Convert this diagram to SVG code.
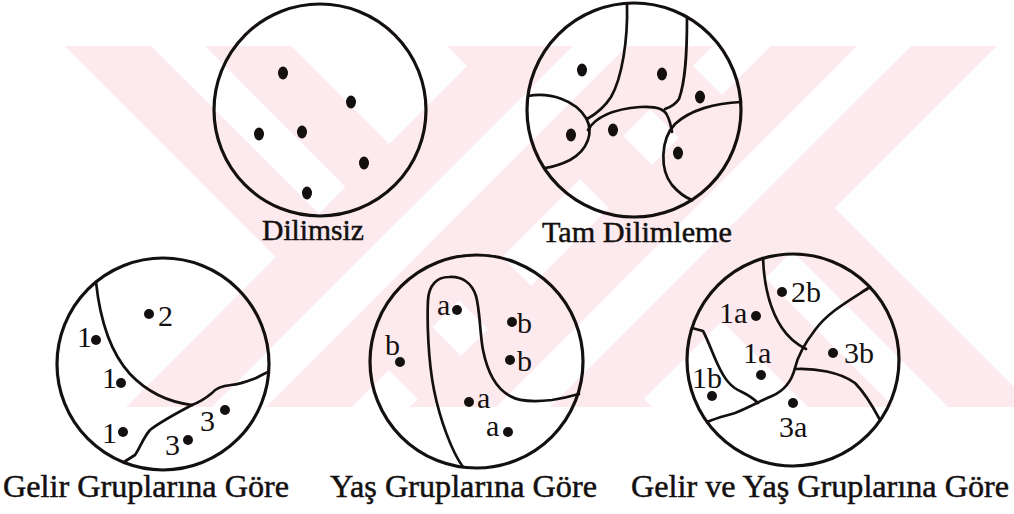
<svg xmlns="http://www.w3.org/2000/svg" width="1014" height="514" viewBox="0 0 1014 514">
<style>
.circ{fill:none;stroke:#141010;stroke-width:3.2}
.div{fill:none;stroke:#141010;stroke-width:2.7;stroke-linecap:round;stroke-linejoin:round}
.dot{fill:#141010}
.band{stroke:#fdeaee;stroke-width:160;fill:none}
.stripe{stroke:#ffffff;stroke-width:38;fill:none}
</style>
<defs>
<clipPath id="wm"><rect x="0" y="46" width="1014" height="361"/></clipPath>
</defs>
<rect width="1014" height="514" fill="#ffffff"/>
<g id="watermark" clip-path="url(#wm)">
<line class="band" x1="89" y1="-43" x2="689" y2="557"/>
<line class="band" x1="422" y1="-92" x2="1022" y2="508"/>
<line class="stripe" x1="332.4" y1="200.4" x2="-11" y2="-143"/>
<line class="stripe" x1="445.6" y1="313.6" x2="789" y2="657"/>
<line class="stripe" x1="665.4" y1="151.4" x2="322" y2="-192"/>
<line class="stripe" x1="778.6" y1="264.6" x2="1122" y2="608"/>
<line class="band" x1="89" y1="557" x2="689" y2="-43"/>
<line class="band" x1="422" y1="508" x2="1022" y2="-92"/>
<line class="stripe" x1="89" y1="557" x2="689" y2="-43"/>
<line class="stripe" x1="422" y1="508" x2="1022" y2="-92"/>
</g>
<g id="connectors"/>
<g id="dilimsiz">
<circle class="circ" cx="320" cy="110" r="106"/>
<ellipse class="dot" cx="283" cy="73" rx="5" ry="6.5"/>
<ellipse class="dot" cx="351" cy="102" rx="5" ry="6.5"/>
<ellipse class="dot" cx="259" cy="134" rx="5" ry="6.5"/>
<ellipse class="dot" cx="302" cy="132" rx="5" ry="6.5"/>
<ellipse class="dot" cx="364" cy="163" rx="5" ry="6.5"/>
<ellipse class="dot" cx="307" cy="193" rx="5" ry="6.5"/>
<text x="262" y="240" font-family="Liberation Serif" font-size="30" fill="#141010" stroke="#141010" stroke-width="0.5" textLength="102" lengthAdjust="spacingAndGlyphs">Dilimsiz</text>
</g>
<g id="tam-dilimleme">
<circle class="circ" cx="634" cy="110" r="107"/>
<path class="div" d="M627,4 C628,40 622,78 611,97 C604,108 596,114 587,119"/>
<path class="div" d="M687,17 C687,50 686,80 679,99 C675,105 671,107 665,109"/>
<path class="div" d="M528,96 C550,92 575,100 586,118 C594,132 588,150 570,160 C560,165 552,167 545,168"/>
<path class="div" d="M588,130 C596,116 615,109 640,107 C655,106 664,108 667,115 C670,121 671,126 672,132"/>
<path class="div" d="M741,102 C715,103 690,110 675,124 C660,140 660,170 672,185 C678,192 684,197 692,200"/>
<ellipse class="dot" cx="582" cy="70" rx="5" ry="6.5"/>
<ellipse class="dot" cx="662" cy="74" rx="5" ry="6.5"/>
<ellipse class="dot" cx="700" cy="97" rx="5" ry="6.5"/>
<ellipse class="dot" cx="571" cy="135" rx="5" ry="6.5"/>
<ellipse class="dot" cx="613" cy="130" rx="5" ry="6.5"/>
<ellipse class="dot" cx="678" cy="153" rx="5" ry="6.5"/>
<text x="542" y="242" font-family="Liberation Serif" font-size="30" fill="#141010" stroke="#141010" stroke-width="0.5" textLength="190" lengthAdjust="spacingAndGlyphs">Tam Dilimleme</text>
</g>
<g id="gelir" font-family="Liberation Serif" font-size="30" fill="#141010">
<circle class="circ" cx="163" cy="364" r="106"/>
<path class="div" d="M96,282 C100,320 110,352 130,374 C148,393 168,402 192,405"/>
<path class="div" d="M192,405 C200,402 206,398 212,393 C216,388 221,386 231,385 C241,384 248,381 256,378 C260,376 263,374 268,372"/>
<path class="div" d="M192,405 C175,414 160,422 150,430 C143,438 140,448 135,455 L124,462"/>
<circle class="dot" cx="149" cy="314" r="5"/><text x="158" y="326" font-family="Liberation Serif" font-size="30" fill="#141010">2</text>
<text x="77" y="347" font-family="Liberation Serif" font-size="30" fill="#141010">1</text><circle class="dot" cx="96" cy="340" r="5"/>
<text x="102" y="388" font-family="Liberation Serif" font-size="30" fill="#141010">1</text><circle class="dot" cx="121" cy="383" r="5"/>
<text x="102" y="443" font-family="Liberation Serif" font-size="30" fill="#141010">1</text><circle class="dot" cx="123" cy="432" r="5"/>
<text x="200" y="431" font-family="Liberation Serif" font-size="30" fill="#141010">3</text><circle class="dot" cx="225" cy="410" r="5"/>
<text x="165" y="455" font-family="Liberation Serif" font-size="30" fill="#141010">3</text><circle class="dot" cx="188" cy="440" r="5"/>
<text x="3" y="497" font-family="Liberation Serif" font-size="32" fill="#141010" stroke="#141010" stroke-width="0.5" textLength="286" lengthAdjust="spacingAndGlyphs">Gelir Gruplarına Göre</text>
</g>
<g id="yas">
<circle class="circ" cx="476.5" cy="361.5" r="106.5"/>
<path class="div" d="M463,467 C452,452 440,420 434,390 C428,360 427,320 428,300 C429,285 437,277 449,277 C462,276 472,283 476,296 C480,310 480,335 483,350 C487,370 495,388 510,396 C520,402 535,402 552,400 C565,398 572,396 579,394"/>
<text x="437" y="315" font-family="Liberation Serif" font-size="30" fill="#141010">a</text><circle class="dot" cx="457" cy="310" r="5"/>
<circle class="dot" cx="512" cy="322" r="5"/><text x="517" y="333" font-family="Liberation Serif" font-size="30" fill="#141010">b</text>
<circle class="dot" cx="510" cy="360" r="5"/><text x="517" y="371" font-family="Liberation Serif" font-size="30" fill="#141010">b</text>
<text x="385" y="355" font-family="Liberation Serif" font-size="30" fill="#141010">b</text><circle class="dot" cx="400" cy="362" r="5"/>
<circle class="dot" cx="469" cy="402" r="5"/><text x="477" y="408" font-family="Liberation Serif" font-size="30" fill="#141010">a</text>
<text x="486" y="436" font-family="Liberation Serif" font-size="30" fill="#141010">a</text><circle class="dot" cx="508" cy="432" r="5"/>
<text x="330" y="497" font-family="Liberation Serif" font-size="32" fill="#141010" stroke="#141010" stroke-width="0.5" textLength="267" lengthAdjust="spacingAndGlyphs">Yaş Gruplarına Göre</text>
</g>
<g id="gelir-yas">
<circle class="circ" cx="793" cy="360" r="106"/>
<path class="div" d="M763,258 C764,285 770,310 782,328 C790,340 798,345 806,349"/>
<path class="div" d="M870,287 C850,300 828,312 815,330 C805,343 798,355 795,368 C792,380 786,390 772,396 C760,401 748,408 735,413 C725,416 716,418 707,422"/>
<path class="div" d="M795,369 C815,368 840,372 855,383 C865,393 872,405 880,420"/>
<path class="div" d="M692,328 L703,331 C708,340 713,355 718,365 C724,378 730,387 742,392 C750,396 755,400 758,403"/>
<circle class="dot" cx="782" cy="292" r="5"/><text x="791" y="302" font-family="Liberation Serif" font-size="30" fill="#141010">2b</text>
<text x="719" y="323" font-family="Liberation Serif" font-size="30" fill="#141010">1a</text><circle class="dot" cx="756" cy="316" r="5"/>
<text x="743" y="363" font-family="Liberation Serif" font-size="30" fill="#141010">1a</text><circle class="dot" cx="761" cy="375" r="5"/>
<text x="692" y="388" font-family="Liberation Serif" font-size="30" fill="#141010">1b</text><circle class="dot" cx="712" cy="396" r="5"/>
<circle class="dot" cx="833" cy="353" r="5"/><text x="844" y="363" font-family="Liberation Serif" font-size="30" fill="#141010">3b</text>
<circle class="dot" cx="793" cy="403" r="5"/><text x="779" y="437" font-family="Liberation Serif" font-size="30" fill="#141010">3a</text>
<text x="631" y="497" font-family="Liberation Serif" font-size="32" fill="#141010" stroke="#141010" stroke-width="0.5" textLength="378" lengthAdjust="spacingAndGlyphs">Gelir ve Yaş Gruplarına Göre</text>
</g>
</svg>
